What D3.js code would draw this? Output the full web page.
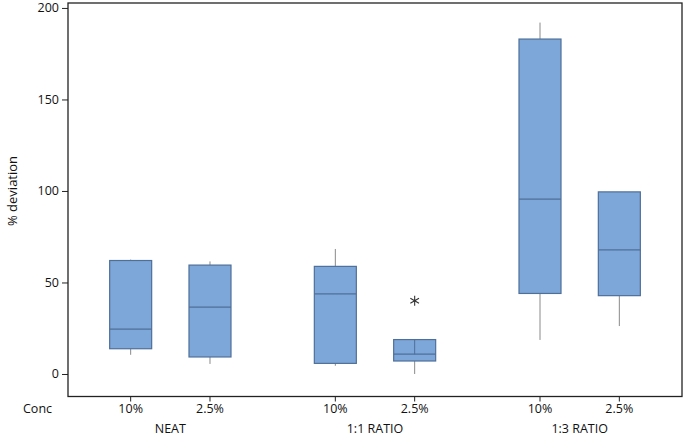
<!DOCTYPE html>
<html>
<head>
<meta charset="utf-8">
<script src="https://cdn.jsdelivr.net/npm/d3@7"></script>
<style>
  body { margin: 0; background: #fff; }
  text { font-family: "Open Sans", "Noto Sans", sans-serif; fill: #111; }
</style>
</head>
<body>
<svg id="chart" width="685" height="436"></svg>
<script>
//Groups and concentrations on the x axis
var groups = ["NEAT", "1:1 RATIO", "1:3 RATIO"];
var concs = ["10%", "2.5%"];

//Box statistics, one entry per group/conc (in order)
var whiskerLow = [10.5, 5.5, 4.5, 0, 18.6, 26.2];
var q1 = [13.8, 9.3, 5.8, 7.1, 44, 42.8];
var median = [24.5, 36.5, 43.8, 10.8, 95.5, 67.8];
var q3 = [62, 59.5, 58.8, 18.8, 183, 99.5];
var whiskerHigh = [62.5, 61.5, 68.3, 18.8, 192, 99.5];
//Outliers (index of box, value)
var outliers = [[3, 40]];

var yTicks = [0, 50, 100, 150, 200];

var svg = d3.select("svg#chart");
var plotLeft = 68, plotRight = 682, plotTop = 3, plotBottom = 396.5;

var boxFill = "#7da7d9";
var boxStroke = "#4f6f98";

//Outer scale for the groups, inner one for the concentrations
var xGroup = d3.scaleBand().domain(groups).range([plotLeft, plotRight]);
var xConc = d3.scalePoint().domain(concs).range([0, xGroup.bandwidth()]).padding(0.79);

var y = d3.scaleLinear().domain([-12.3, 202.7]).range([plotBottom, plotTop]);

var boxes = [];
groups.forEach(function (g, gi) {
  concs.forEach(function (c, ci) {
    var i = gi * 2 + ci;
    boxes.push({ group: g, conc: c, x: xGroup(g) + xConc(c),
      lo: whiskerLow[i], q1: q1[i], med: median[i], q3: q3[i], hi: whiskerHigh[i] });
  });
});

var boxW = 42;

//Frame
svg.append("rect")
  .attr("x", plotLeft).attr("y", plotTop)
  .attr("width", plotRight - plotLeft).attr("height", plotBottom - plotTop)
  .attr("fill", "none").attr("stroke", "#222").attr("stroke-width", 1.3);

//Y axis
var yAxis = svg.append("g")
  .attr("transform", "translate(" + plotLeft + ",0)")
  .call(d3.axisLeft(y).tickValues(yTicks).tickSize(6).tickPadding(3));
yAxis.select(".domain").remove();
yAxis.selectAll("line").attr("stroke", "#222");
yAxis.selectAll("text").style("font-size", "12.5px")
  .style("font-family", "'Open Sans', sans-serif").attr("fill", "#111");

svg.append("text")
  .attr("transform", "translate(17," + y(100) + ") rotate(-90)")
  .attr("text-anchor", "middle")
  .style("font-size", "13px")
  .text("% deviation");

//Bottom ticks
svg.selectAll(".xtick")
  .data(boxes)
  .enter().append("line")
    .attr("x1", function (d) { return d.x; })
    .attr("x2", function (d) { return d.x; })
    .attr("y1", plotBottom)
    .attr("y2", plotBottom + 5)
    .attr("stroke", "#222");

svg.selectAll(".concLabel")
  .data(boxes)
  .enter().append("text")
    .attr("x", function (d) { return d.x; })
    .attr("y", 413)
    .attr("text-anchor", "middle")
    .style("font-size", "12.5px")
    .text(function (d) { return d.conc; });

svg.selectAll(".groupLabel")
  .data(groups)
  .enter().append("text")
    .attr("x", function (d) { return xGroup(d) + xGroup.bandwidth() / 2; })
    .attr("y", 433)
    .attr("text-anchor", "middle")
    .style("font-size", "12.5px")
    .text(function (d) { return d; });

svg.append("text")
  .attr("x", 23).attr("y", 413)
  .style("font-size", "12.5px")
  .text("Conc");

//Boxes
var bx = svg.selectAll(".box")
  .data(boxes)
  .enter().append("g")
    .classed("box", true);

//Whiskers
bx.append("line")
  .attr("x1", function (d) { return d.x; })
  .attr("x2", function (d) { return d.x; })
  .attr("y1", function (d) { return y(d.hi); })
  .attr("y2", function (d) { return y(d.q3); })
  .attr("stroke", "#8a8a8a");
bx.append("line")
  .attr("x1", function (d) { return d.x; })
  .attr("x2", function (d) { return d.x; })
  .attr("y1", function (d) { return y(d.q1); })
  .attr("y2", function (d) { return y(d.lo); })
  .attr("stroke", "#8a8a8a");

bx.append("rect")
  .attr("x", function (d) { return d.x - boxW / 2; })
  .attr("y", function (d) { return y(d.q3); })
  .attr("width", boxW)
  .attr("height", function (d) { return y(d.q1) - y(d.q3); })
  .attr("fill", boxFill)
  .attr("stroke", boxStroke)
  .attr("stroke-width", 1.2);

bx.append("line")
  .attr("x1", function (d) { return d.x - boxW / 2; })
  .attr("x2", function (d) { return d.x + boxW / 2; })
  .attr("y1", function (d) { return y(d.med); })
  .attr("y2", function (d) { return y(d.med); })
  .attr("stroke", boxStroke)
  .attr("stroke-width", 1.3);

//The short box draws its whisker line through the upper half
bx.filter(function (d) { return d.hi === d.q3 && d.q3 - d.med < 10; })
  .append("line")
    .attr("x1", function (d) { return d.x; })
    .attr("x2", function (d) { return d.x; })
    .attr("y1", function (d) { return y(d.q3); })
    .attr("y2", function (d) { return y(d.med); })
    .attr("stroke", boxStroke);

//Outliers as asterisks
svg.selectAll(".outlier")
  .data(outliers)
  .enter().append("path")
    .attr("transform", function (d) { return "translate(" + boxes[d[0]].x + "," + y(d[1]) + ")"; })
    .attr("d", d3.symbol().type(d3.symbolAsterisk).size(70))
    .attr("fill", "none")
    .attr("stroke", "#333")
    .attr("stroke-width", 1.1);
</script>
</body>
</html>
